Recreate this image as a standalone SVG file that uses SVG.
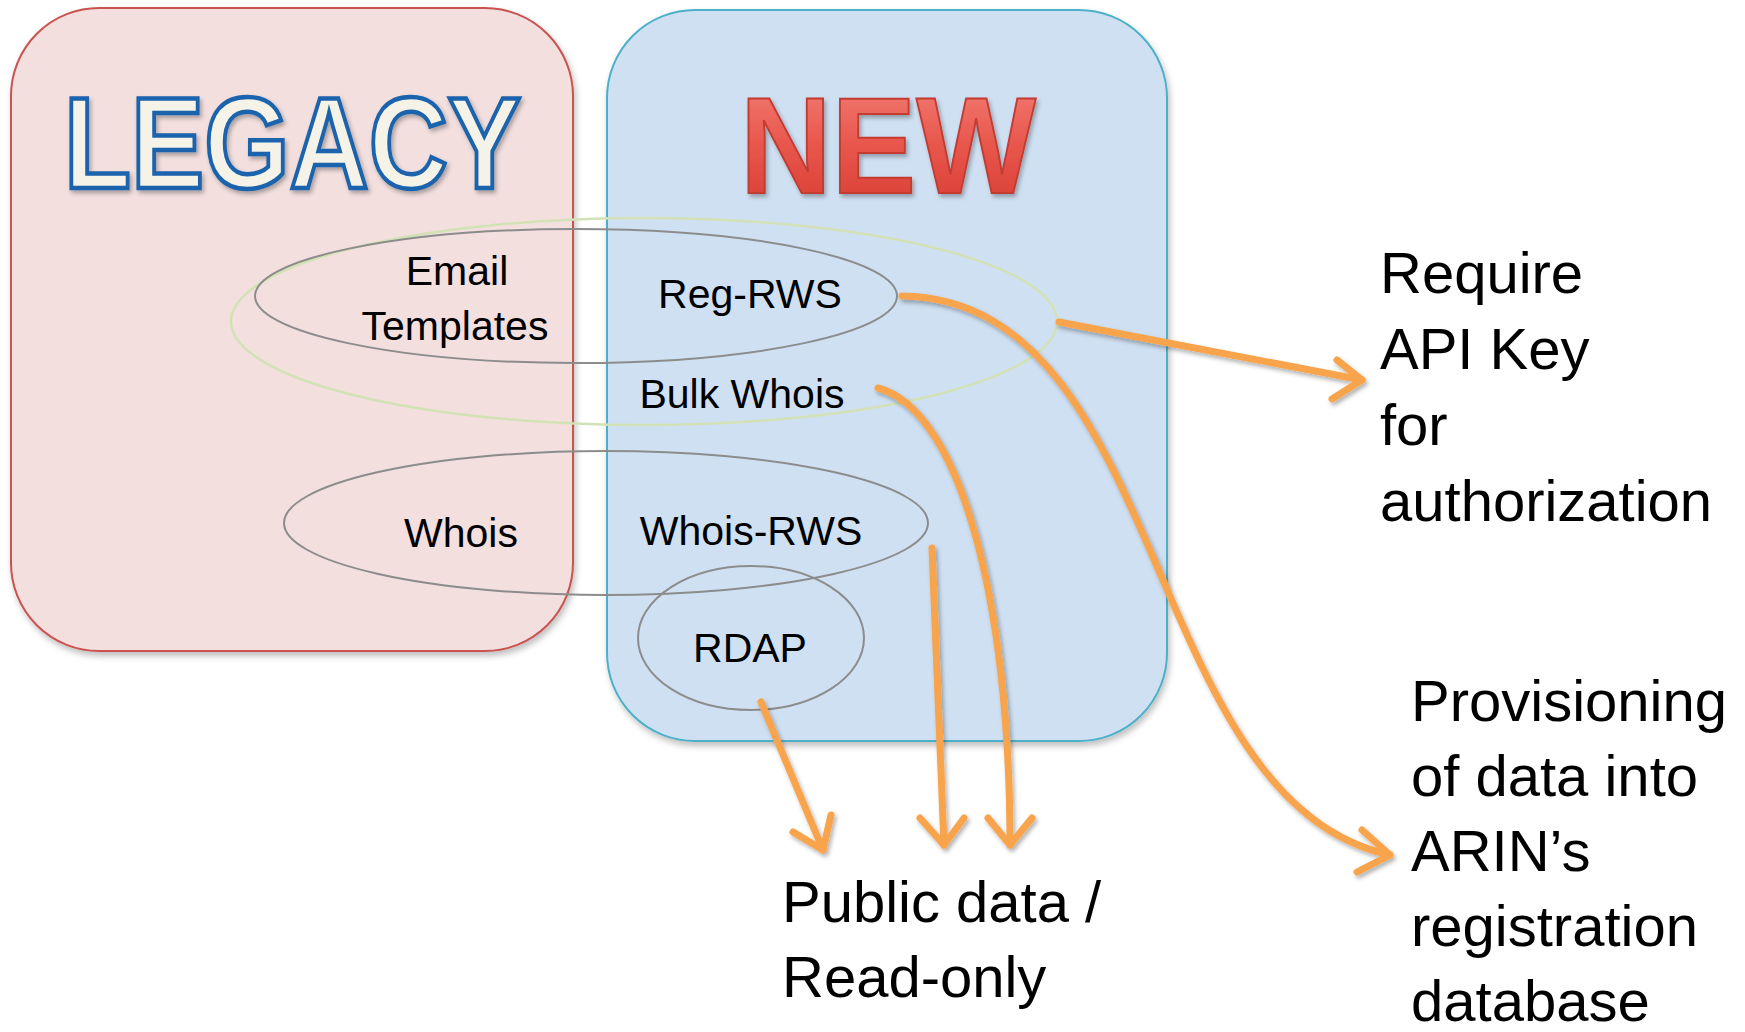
<svg xmlns="http://www.w3.org/2000/svg" width="1745" height="1032" viewBox="0 0 1745 1032">
<style>
.lbl{font-family:"Liberation Sans",Arial,sans-serif;font-size:41px;fill:#000;text-anchor:middle}
.big{font-family:"Liberation Sans",Arial,sans-serif;font-size:58px;fill:#000}
.ell{fill:none;stroke:#8c8c8c;stroke-width:2}
.arr{fill:none;stroke:#f8a44e;stroke-width:7;stroke-linecap:round;stroke-linejoin:round}
</style>
<defs>
<filter id="sh" x="-10%" y="-10%" width="120%" height="120%">
<feDropShadow dx="2" dy="4" stdDeviation="3" flood-color="#000" flood-opacity="0.25"/>
</filter>
<filter id="tsh" x="-10%" y="-10%" width="120%" height="130%">
<feDropShadow dx="2" dy="3" stdDeviation="2" flood-color="#000" flood-opacity="0.3"/>
</filter>
<linearGradient id="red" x1="0" y1="0" x2="0" y2="1">
<stop offset="0" stop-color="#f4837a"/>
<stop offset="0.5" stop-color="#e8564c"/>
<stop offset="1" stop-color="#d63a30"/>
</linearGradient>
</defs>

<g id="legacy">
<rect x="11" y="8" width="562" height="643" rx="88" ry="88" fill="#f2dfde" stroke="#c9534f" stroke-width="2" filter="url(#sh)"/>
<text x="64" y="188" textLength="457" lengthAdjust="spacingAndGlyphs" font-family="'Liberation Sans',Arial,sans-serif" font-weight="bold" font-size="130" fill="#f5f2e8" stroke="#1c63ad" stroke-width="4.5" filter="url(#tsh)">LEGACY</text>
</g>

<g id="new">
<rect x="607" y="10" width="560" height="731" rx="88" ry="88" fill="#cfe0f2" stroke="#4eb0c9" stroke-width="2" filter="url(#sh)"/>
<text x="740" y="193" textLength="296" lengthAdjust="spacingAndGlyphs" font-family="'Liberation Sans',Arial,sans-serif" font-weight="bold" font-size="137" fill="url(#red)" stroke="#c43a31" stroke-width="2" filter="url(#tsh)">NEW</text>
</g>

<g id="auth-group">
<ellipse cx="644" cy="321.5" rx="413" ry="103.5" fill="none" stroke="#d3e2b6" stroke-width="2.5"/>
</g>

<g id="email-reg">
<ellipse class="ell" cx="576" cy="296" rx="321" ry="67"/>
<text class="lbl" x="457" y="285">Email</text>
<text class="lbl" x="455" y="340">Templates</text>
<text class="lbl" x="750" y="308">Reg-RWS</text>
</g>

<g id="bulk-whois">
<text class="lbl" x="742" y="408">Bulk Whois</text>
</g>

<g id="whois">
<ellipse class="ell" cx="606" cy="523" rx="322" ry="72"/>
<text class="lbl" x="461" y="547">Whois</text>
<text class="lbl" x="751" y="545">Whois-RWS</text>
</g>

<g id="rdap">
<ellipse class="ell" cx="751" cy="638" rx="113" ry="72"/>
<text class="lbl" x="750" y="662">RDAP</text>
</g>

<g id="connectors" filter="url(#tsh)">
<path class="arr" d="M1059,322 L1362,380"/>
<path class="arr" d="M1337,360 L1362,380 L1332,399"/>
<path class="arr" d="M902,296 C1170,300 1140,800 1390,855"/>
<path class="arr" d="M1362,830 L1390,855 L1357,872"/>
<path class="arr" d="M878,388 C960,410 1010,600 1010,845"/>
<path class="arr" d="M988,818 L1010,845 L1032,818"/>
<path class="arr" d="M932,548 L944,845"/>
<path class="arr" d="M920,818 L944,845 L964,818"/>
<path class="arr" d="M761,702 L823,850"/>
<path class="arr" d="M793,832 L823,850 L831,815"/>
</g>

<g id="auth-label">
<text class="big" x="1380" y="293">Require</text>
<text class="big" x="1380" y="369">API Key</text>
<text class="big" x="1380" y="445">for</text>
<text class="big" x="1380" y="521">authorization</text>
</g>

<g id="prov-label">
<text class="big" x="1411" y="721">Provisioning</text>
<text class="big" x="1411" y="796">of data into</text>
<text class="big" x="1411" y="871">ARIN’s</text>
<text class="big" x="1411" y="946">registration</text>
<text class="big" x="1411" y="1021">database</text>
</g>

<g id="public-label">
<text class="big" x="782" y="922">Public data /</text>
<text class="big" x="782" y="997">Read-only</text>
</g>
</svg>
